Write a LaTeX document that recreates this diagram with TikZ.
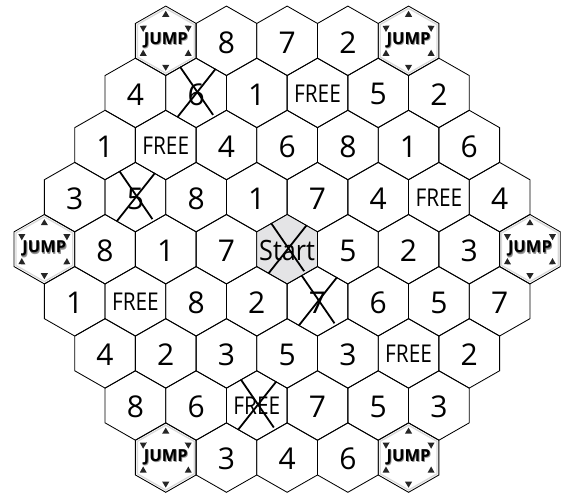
\documentclass[tikz,border=0pt]{standalone}
\usepackage{fontspec}
\usepackage{graphicx}
\setmainfont{Open Sans}
\usetikzlibrary{calc}
\newcommand\hexshape{+(0,-34.7) -- +(30.35,-17.35) -- +(30.35,17.35) -- +(0,34.7) -- +(-30.35,17.35) -- +(-30.35,-17.35) -- cycle}
\newcommand\innerhex{+(0,-32.4) -- +(28.4,-16.2) -- +(28.4,16.2) -- +(0,32.4) -- +(-28.4,16.2) -- +(-28.4,-16.2) -- cycle}
\newcommand\crossat{%
  \draw[crossline] ($(p\r-\c)+(-16,-26)$) -- ($(p\r-\c)+(17,22)$);
  \draw[crossline] ($(p\r-\c)+(19.5,-24)$) -- ($(p\r-\c)+(-18.5,24)$);}
\newcommand\kindn{\draw[hexline] (p\r-\c) \hexshape;
  \node[numtxt] (c\r-\c) at (p\r-\c) {\t};}
\newcommand\kindx{\kindn\crossat}
\newcommand\kindf{\draw[hexline] (p\r-\c) \hexshape;
  \node[freetxt] (c\r-\c) at (p\r-\c) {\scalebox{0.85}[1]{FREE}};}
\newcommand\kindy{\kindf\crossat}
\newcommand\kinds{\draw[hexline,fill=startgray] (p\r-\c) \hexshape;
  \node[starttxt] (c\r-\c) at (p\r-\c) {\scalebox{0.9}[1]{Start}};\crossat}
\newcommand\jumpword{\rlap{\hspace{1.1pt}\raisebox{-1.3pt}{\color{black!40}JUMP}}\rlap{\hspace{0.5pt}\raisebox{-0.6pt}{\color{black!55}JUMP}}JUMP}
\newcommand\kindj{\draw[hexline] (p\r-\c) \hexshape;
  \draw[black!15,line width=1.3pt] (p\r-\c) \innerhex;
  \foreach \a in {90,30,-30,-90,-150,150}{
    \fill[tri] ($(p\r-\c)+(\a:30)$) -- ($(p\r-\c)+(\a:24)+(\a+90:3.6)$) -- ($(p\r-\c)+(\a:24)+(\a-90:3.6)$) -- cycle;}
  \node[jumptxt] (c\r-\c) at (p\r-\c) {\jumpword};}
\definecolor{startgray}{RGB}{228,228,230}
\begin{document}
\begin{tikzpicture}[x=1pt,y=-1pt,
  hexline/.style={draw=black,line width=0.85pt,line join=miter},
  numtxt/.style={font=\fontsize{30}{30}\selectfont,inner sep=0pt,yshift=-1.5pt},
  freetxt/.style={font=\fontsize{24.5}{24.5}\selectfont,inner sep=0pt,yshift=-0.5pt},
  starttxt/.style={font=\fontsize{28}{28}\selectfont,inner sep=0pt,yshift=-1pt},
  jumptxt/.style={font=\bfseries\fontsize{16.5}{16.5}\selectfont,inner sep=0pt},
  crossline/.style={line width=1.8pt,line cap=butt},
  tri/.style={fill=black!85}]
\useasboundingbox (0,0) rectangle (569,492);
\foreach \r/\off/\cells in {
  0/4/{j/,n/8,n/7,n/2,j/},
  1/3/{n/4,x/6,n/1,f/,n/5,n/2},
  2/2/{n/1,f/,n/4,n/6,n/8,n/1,n/6},
  3/1/{n/3,x/5,n/8,n/1,n/7,n/4,f/,n/4},
  4/0/{j/,n/8,n/1,n/7,s/,n/5,n/2,n/3,j/},
  5/1/{n/1,f/,n/8,n/2,x/7,n/6,n/5,n/7},
  6/2/{n/4,n/2,n/3,n/5,n/3,f/,n/2},
  7/3/{n/8,n/6,y/,n/7,n/5,n/3},
  8/4/{j/,n/3,n/4,n/6,j/}}{
  \foreach \k/\t [count=\c from 0] in \cells {
    \pgfmathsetmacro\cx{44.35+\off*30.35+\c*60.7}
    \pgfmathsetmacro\cy{40.8+\r*52.1}
    \coordinate (p\r-\c) at (\cx,\cy);
    \csname kind\k\endcsname
  }
}
\end{tikzpicture}
\end{document}
